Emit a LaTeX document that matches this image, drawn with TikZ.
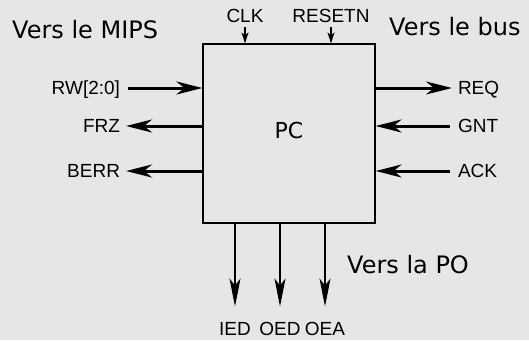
\documentclass[tikz,border=0pt]{standalone}
\usepackage{fontspec}
\setmainfont{Liberation Sans}
\newfontfamily\dejavu{DejaVu Sans}
\usetikzlibrary{arrows.meta}
\definecolor{bg}{RGB}{230,230,230}
\tikzset{
  lbl/.style={inner sep=0pt, outer sep=0pt, text height=13.5pt, text depth=0pt,
    font=\fontsize{19}{22}\selectfont},
  big/.style={inner sep=0pt, font=\dejavu\fontsize{24}{28}\selectfont},
  sig/.style={line width=3pt, -{Stealth[length=26pt,width=13pt,inset=8pt]}},
  ctl/.style={line width=1.2pt, -{Stealth[length=11pt,width=7pt,inset=3pt]}},
  outdn/.style={line width=1.3pt, -{Stealth[length=28pt,width=11pt,inset=7pt]}},
}
\begin{document}
\begin{tikzpicture}[x=1pt,y=-1pt]
    % Background
    \fill[bg] (0,0) rectangle (529,340);
    \useasboundingbox (0,0) rectangle (529,340);

    % The block
    \node[draw, line width=1.2pt, minimum width=172pt, minimum height=179pt,
          font=\dejavu\fontsize{22}{26}\selectfont, text depth=7pt] (pc) at (289,133.5) {PC};

    % Group titles
    \node[big, anchor=base west] (mips) at (12,38) {Vers le MIPS};
    \node[big, anchor=base west] (bus) at (389,35) {Vers le bus};
    \node[big, anchor=base west] (po) at (347,273) {Vers la PO};

    % Signals on the left
    \node[lbl, anchor=east] (rw) at (120,88) {RW[2:0]};
    \node[lbl, anchor=east] (frz) at (120,126) {FRZ};
    \node[lbl, anchor=east] (berr) at (120,171) {BERR};
    \draw[sig, shorten <=8pt] (rw.east) -- (rw.east -| pc.west);
    \draw[sig, shorten >=6pt] (frz.east -| pc.west) -- (frz.east);
    \draw[sig, shorten >=6pt] (berr.east -| pc.west) -- (berr.east);

    % Signals on the right
    \node[lbl, anchor=west] (req) at (458,88) {REQ};
    \node[lbl, anchor=west] (gnt) at (458,126) {GNT};
    \node[lbl, anchor=west] (ack) at (458,171) {ACK};
    \draw[sig, shorten >=6pt] (req.west -| pc.east) -- (req.west);
    \draw[sig, shorten <=8pt] (gnt.west) -- (gnt.west -| pc.east);
    \draw[sig, shorten <=8pt] (ack.west) -- (ack.west -| pc.east);

    % Clock and reset
    \node[lbl, anchor=base] (clk) at (245,22.5) {CLK};
    \node[lbl, anchor=base] (resetn) at (331,22.5) {RESETN};
    \draw[ctl, shorten <=4.5pt] (clk.south) -- (clk.south |- pc.north);
    \draw[ctl, shorten <=4.5pt] (resetn.south) -- (resetn.south |- pc.north);

    % Signals to the PO
    \node[lbl, anchor=base] (ied) at (235,335) {IED};
    \node[lbl, anchor=base] (oed) at (280,335) {OED};
    \node[lbl, anchor=base] (oea) at (325,335) {OEA};
    \foreach \s in {ied,oed,oea}
        \draw[outdn, shorten >=15pt] (\s.north |- pc.south) -- (\s.north);

\end{tikzpicture}
\end{document}
